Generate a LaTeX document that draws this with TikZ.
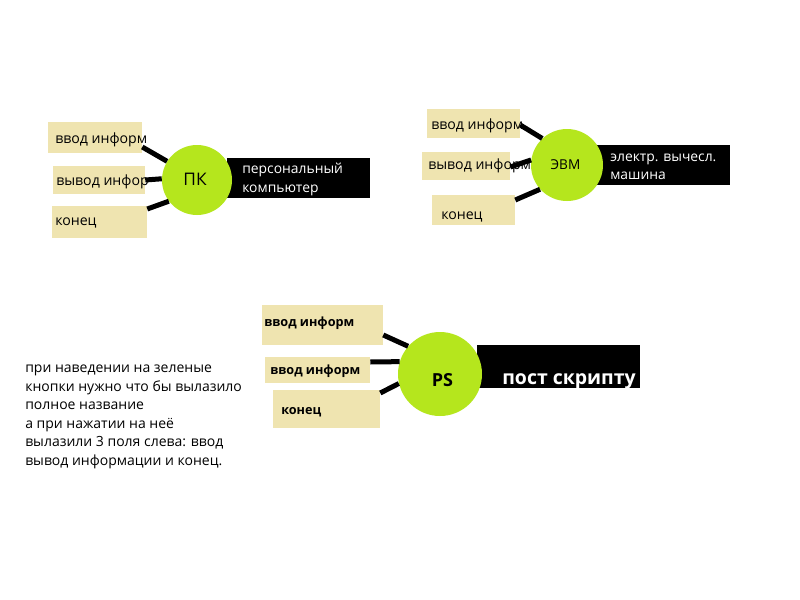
\documentclass[tikz,border=0pt]{standalone}
\usepackage{fontspec}
\setmainfont{Open Sans}
\newdimen\pu \pu=0.75pt
\definecolor{boxc}{HTML}{EFE4B0}
\definecolor{btnc}{HTML}{B5E61D}
\tikzset{
  box/.style={fill=boxc, inner sep=0pt, draw=none},
  btn/.style={circle, fill=btnc, inner sep=0pt},
  bar/.style={fill=black, inner sep=0pt},
  conn/.style={line width=3.75pt},
  lbl/.style={anchor=base west, inner sep=0pt, font=\fontsize{10.6}{12}\selectfont},
  blbl/.style={anchor=base west, inner sep=0pt, font=\fontsize{9.5}{12}\selectfont\bfseries},
  wlbl/.style={anchor=base west, inner sep=0pt, text=white, font=\fontsize{10.4}{12}\selectfont},
}
\begin{document}
\begin{tikzpicture}[x=0.75pt, y=-0.75pt]
\useasboundingbox (0,0) rectangle (800,600);
\fill[white] (0,0) rectangle (800,600);

% ---------- PK group ----------
\node[box, minimum width={94*\pu}, minimum height={31*\pu}] (pkb1) at (95,137.5) {};
\node[box, minimum width={92*\pu}, minimum height={28*\pu}] (pkb2) at (99,180) {};
\node[box, minimum width={95*\pu}, minimum height={32*\pu}] (pkb3) at (99.5,222) {};
\node[lbl] (pkt1) at (55,143) {ввод информ};
\node[lbl] (pkt2) at (56,185) {вывод инфор};
\node[lbl] (pkt3) at (55,225) {конец};
\node[bar, minimum width={143*\pu}, minimum height={40*\pu}] (pkr) at (298.5,178) {};
\node[wlbl] (pkd1) at (242,173) {персональный};
\node[wlbl] (pkd2) at (242,192.5) {компьютер};
\node[btn, minimum size={70*\pu}] (pk) at (197,180) {};
\node[anchor=base, inner sep=0pt, font=\fontsize{13}{15}\selectfont] (pkn) at (195,185.5) {ПК};
\draw[conn] ([yshift={-9.5*\pu}]pkb1.east) -- (pk.148);
\draw[conn] (pkb2.east) -- (pk.178);
\draw[conn] ([yshift={13*\pu}]pkb3.east) -- (pk.217);

% ---------- EVM group ----------
\node[box, minimum width={93*\pu}, minimum height={29*\pu}] (eb1) at (473.5,123.5) {};
\node[box, minimum width={88*\pu}, minimum height={28*\pu}] (eb2) at (466,166) {};
\node[box, minimum width={83*\pu}, minimum height={30*\pu}] (eb3) at (473.5,210) {};
\node[lbl] (et1) at (431,129) {ввод информ};
\node[lbl] (et2) at (428,169.5) {вывод информ};
\node[lbl] (et3) at (441,219.5) {конец};
\node[bar, minimum width={133*\pu}, minimum height={40*\pu}] (er) at (663.5,165) {};
\node[wlbl] (ed1) at (610,161) {электр. вычесл.};
\node[wlbl] (ed2) at (610,179.5) {машина};
\node[btn, minimum size={72*\pu}] (evm) at (567,165) {};
\node[anchor=base, inner sep=0pt, font=\fontsize{10.2}{12}\selectfont] (evmn) at (565.5,169) {ЭВМ};
\draw[conn] ([yshift={-1.5*\pu}]eb1.east) -- (evm.133);
\draw[conn] ([yshift={-1*\pu}]eb2.east) -- (evm.172);
\draw[conn] ([yshift={10*\pu}]eb3.east) -- (evm.222);

% ---------- PS group ----------
\node[box, minimum width={121*\pu}, minimum height={40*\pu}] (pb1) at (322.5,325) {};
\node[box, minimum width={105*\pu}, minimum height={26*\pu}] (pb2) at (317.5,370) {};
\node[box, minimum width={107*\pu}, minimum height={38*\pu}] (pb3) at (326.5,409) {};
\node[blbl] (pt1) at (264,326.5) {ввод информ};
\node[blbl] (pt2) at (270,374) {ввод информ};
\node[blbl] (pt3) at (281,414) {конец};
\node[bar, minimum width={163*\pu}, minimum height={43*\pu}] (pr) at (558.5,366.5) {};
\node[inner sep=0pt, anchor=base west, text=white, font=\fontsize{14.6}{17}\selectfont\bfseries] (pd) at (502,384) {пост скрипту};
\node[btn, minimum size={84*\pu}] (ps) at (440,374) {};
\node[anchor=base, inner sep=0pt, font=\fontsize{13.5}{15}\selectfont\bfseries] (psn) at (442.5,386.5) {PS};
\draw[conn] ([yshift={-10*\pu}]pb1.east) -- (ps.139);
\draw[conn] ([yshift={8*\pu}]pb2.east) -- (ps.163);
\draw[conn] ([yshift={16*\pu}]pb3.east) -- (ps.193);

% ---------- note ----------
\node[anchor=north west, inner sep=0pt, align=left, font=\fontsize{10.5}{13.95}\selectfont] (note) at (25,364.5)
{при наведении на зеленые\\кнопки нужно что бы вылазило\\полное название\\а при нажатии на неё\\вылазили 3 поля слева: ввод\\вывод информации и конец.};
\end{tikzpicture}
\end{document}
